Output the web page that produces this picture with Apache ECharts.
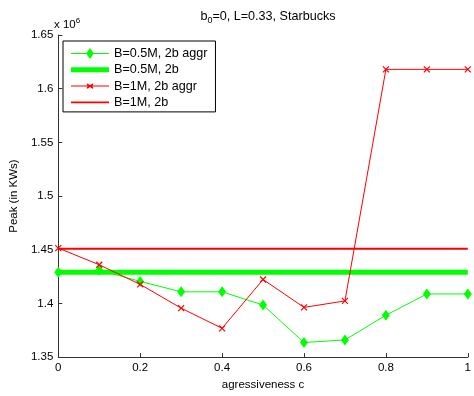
<!DOCTYPE html>
<html><head><meta charset="utf-8">
<script src="https://cdn.jsdelivr.net/npm/echarts@6/dist/echarts.min.js"></script>
<style>html,body{margin:0;padding:0;background:#fff}#c{width:474px;height:396px}</style>
</head><body><div id="c"></div>
<script>
const xCats = [0, 0.1, 0.2, 0.3, 0.4, 0.5, 0.6, 0.7, 0.8, 0.9, 1.0];
const greenAggr = [1.429, 1.431, 1.4205, 1.4108, 1.4108, 1.3985, 1.3636, 1.366, 1.389, 1.4088, 1.4088];
const green2b = [1.429, 1.429, 1.429, 1.429, 1.429, 1.429, 1.429, 1.429, 1.429, 1.429, 1.429];
const redAggr = [1.4515, 1.436, 1.4177, 1.3956, 1.3768, 1.4223, 1.3963, 1.4023, 1.618, 1.618, 1.618];
const red2b = [1.451, 1.451, 1.451, 1.451, 1.451, 1.451, 1.451, 1.451, 1.451, 1.451, 1.451];
const seriesNames = ['B=0.5M, 2b aggr', 'B=0.5M, 2b', 'B=1M, 2b aggr', 'B=1M, 2b'];
const yTicks = [1.35, 1.4, 1.45, 1.5, 1.55, 1.6, 1.65];

const FONT = 'Liberation Sans, Arial, sans-serif';
const pair = arr => xCats.map((x, i) => [x, arr[i]]);
const xPath = 'path://M0,0 L10,10 M10,0 L0,10';

const iconDiamond = 'path://M0,5 H15.5 L19,0 L22.5,5 H38 V6 H22.5 L19,11 L15.5,6 H0 Z';
const iconThick = 'path://M0,0 H38 V5 H0 Z';
const iconX = 'path://M0,2.5 H16.6 L15.5,1 L16.5,0.3 L19,2.2 L21.5,0.3 L22.5,1 L21.4,2.5 H38 V3.5 H21.4 L22.5,5 L21.5,5.7 L19,3.8 L16.5,5.7 L15.5,5 L16.6,3.5 H0 Z';
const iconLine = 'path://M0,0 H38 V1.6 H0 Z';

const chart = echarts.init(document.getElementById('c'), null, {renderer: 'canvas'});
chart.setOption({
  animation: false,
  backgroundColor: '#fff',
  textStyle: {fontFamily: FONT},
  title: {
    text: '{a|b}{s|0}{a|=0, L=0.33, Starbucks}',
    left: 263, top: 3, textAlign: 'center',
    textStyle: {
      fontWeight: 'normal',
      rich: {
        a: {fontSize: 12.6, fontFamily: FONT, color: '#000', fontWeight: 'normal'},
        s: {fontSize: 9, fontFamily: FONT, color: '#000', fontWeight: 'normal', padding: [8, 0, 0, 0]}
      }
    }
  },
  graphic: [{
    type: 'text', left: 54, top: 17,
    style: {
      text: '{a|x 10}{s|6}',
      rich: {
        a: {fontSize: 11.5, fontFamily: FONT, fill: '#000'},
        s: {fontSize: 8, fontFamily: FONT, fill: '#000', padding: [0, 0, 8, 0]}
      }
    }
  }],
  legend: {
    orient: 'vertical', left: 63, top: 41,
    backgroundColor: '#fff', borderColor: '#000', borderWidth: 1,
    padding: [6, 8, 3, 8],
    itemGap: 3.3, itemWidth: 38, itemHeight: 13,
    symbolKeepAspect: true,
    textStyle: {fontSize: 12.6, fontFamily: FONT, color: '#000'},
    data: [
      {name: seriesNames[0], icon: iconDiamond, itemStyle: {color: '#00ff00', borderWidth: 0}},
      {name: seriesNames[1], icon: iconThick, itemStyle: {color: '#00ff00', borderWidth: 0}},
      {name: seriesNames[2], icon: iconX, itemStyle: {color: '#ff0000', borderWidth: 0}},
      {name: seriesNames[3], icon: iconLine, itemStyle: {color: '#ff0000', borderWidth: 0}}
    ]
  },
  grid: {left: 54, right: 3, top: 35, bottom: 35, containLabel: false},
  xAxis: {
    type: 'value', min: 0, max: 1, interval: 0.2,
    name: 'agressiveness c', nameLocation: 'middle', nameGap: 20,
    nameTextStyle: {fontSize: 11.5, color: '#000', fontFamily: FONT},
    axisLine: {onZero: false, lineStyle: {color: '#333', width: 1}},
    axisTick: {inside: true, length: 4, lineStyle: {color: '#333'}},
    axisLabel: {fontSize: 11.5, color: '#000', margin: 5, formatter: v => String(+v.toFixed(1))},
    splitLine: {show: false}
  },
  yAxis: {
    type: 'value', min: 1.35, max: 1.65, interval: 0.05,
    name: 'Peak (in KWs)', nameLocation: 'middle', nameGap: 34,
    nameTextStyle: {fontSize: 11.5, color: '#000', fontFamily: FONT},
    axisLine: {show: true, lineStyle: {color: '#333', width: 1}},
    axisTick: {show: true, inside: true, length: 4, lineStyle: {color: '#333'}},
    axisLabel: {fontSize: 11.5, color: '#000', margin: 5,
      formatter: v => { const t = yTicks.find(y => Math.abs(y - v) < 1e-6); return t !== undefined ? String(t) : ''; }},
    splitLine: {show: false}
  },
  series: [
    {
      name: seriesNames[0], type: 'line', data: pair(greenAggr),
      symbol: 'diamond', symbolSize: [8, 11], showAllSymbol: true,
      lineStyle: {color: '#00ff00', width: 1},
      itemStyle: {color: '#00ff00'}, z: 2
    },
    {
      name: seriesNames[1], type: 'line', data: pair(green2b),
      symbol: 'none', showSymbol: false,
      lineStyle: {color: '#00ff00', width: 5},
      itemStyle: {color: '#00ff00'}, z: 3
    },
    {
      name: seriesNames[2], type: 'line', data: pair(redAggr),
      symbol: xPath, symbolSize: 6, showAllSymbol: true,
      lineStyle: {color: '#ff0000', width: 1},
      itemStyle: {color: 'none', borderColor: '#ff0000', borderWidth: 1.2}, z: 4
    },
    {
      name: seriesNames[3], type: 'line', data: pair(red2b),
      symbol: 'none', showSymbol: false,
      lineStyle: {color: '#ff0000', width: 2},
      itemStyle: {color: '#ff0000'}, z: 5
    }
  ]
});
</script></body></html>
